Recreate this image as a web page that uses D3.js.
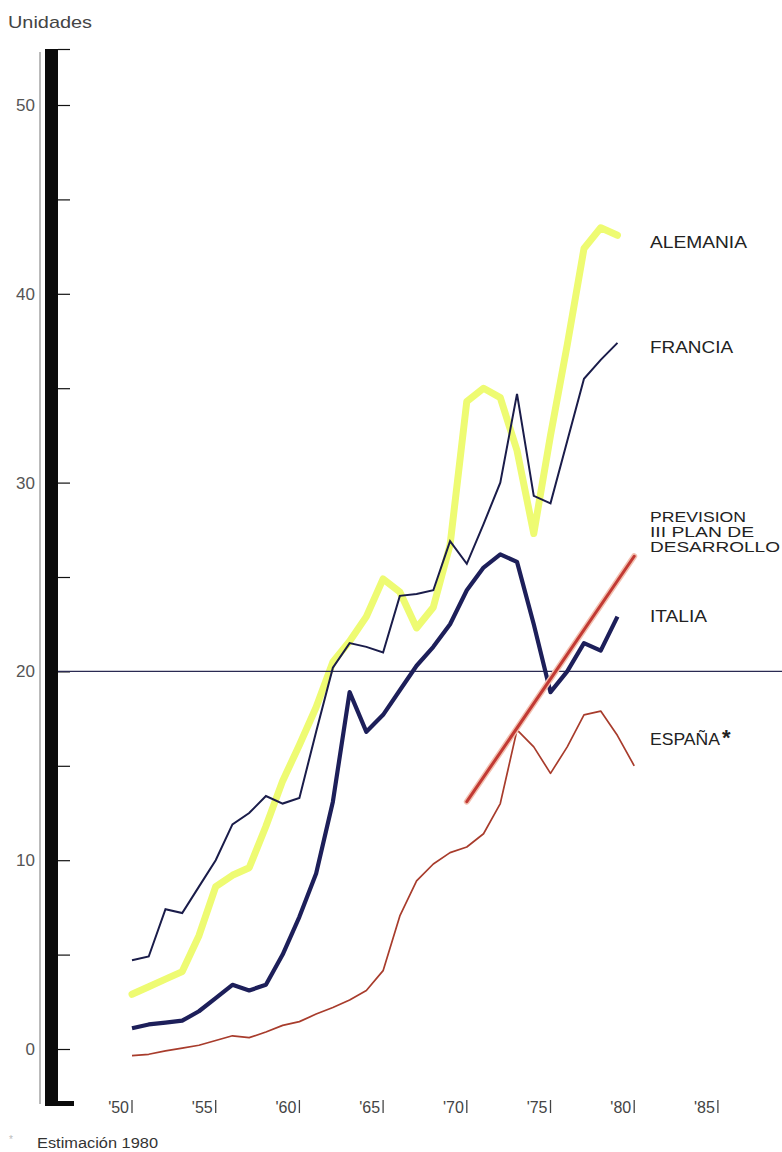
<!DOCTYPE html>
<html><head><meta charset="utf-8">
<script src="https://cdn.jsdelivr.net/npm/d3@7"></script>
<style>html,body{margin:0;padding:0;background:#fff}svg{display:block}</style>
</head><body>
<script>
const years = d3.range(1950, 1980);
const yearsEsp = d3.range(1950, 1981);
const alemania = [2.9,3.3,3.7,4.1,6.0,8.6,9.2,9.6,11.8,14.2,16.1,18.1,20.5,21.6,22.9,24.9,24.2,22.3,23.4,26.7,34.3,35.0,34.5,31.7,27.3,32.5,37.3,42.4,43.5,43.1];
const francia = [4.7,4.9,7.4,7.2,8.6,10.0,11.9,12.5,13.4,13.0,13.3,16.8,20.2,21.5,21.3,21.0,24.0,24.1,24.3,26.9,25.7,27.8,30.0,34.7,29.3,28.9,32.2,35.5,36.5,37.4];
const italia = [1.1,1.3,1.4,1.5,2.0,2.7,3.4,3.1,3.4,5.0,7.0,9.3,13.1,18.9,16.8,17.7,19.0,20.3,21.3,22.5,24.3,25.5,26.2,25.8,22.5,18.9,20.0,21.5,21.1,22.9];
const espana = [-0.35,-0.28,-0.1,0.05,0.2,0.45,0.7,0.6,0.9,1.25,1.45,1.85,2.2,2.6,3.1,4.15,7.05,8.9,9.8,10.4,10.7,11.4,13.0,16.9,16.0,14.6,16.0,17.7,17.9,16.6,15.0];
const planYears = [1970, 1980];
const planValues = [13.1, 26.1];
const xTickYears = [1950,1955,1960,1965,1970,1975,1980,1985];
const xTickLabels = ["'50","'55","'60","'65","'70","'75","'80","'85"];
const yTickValues = [0,10,20,30,40,50];
const yMinorValues = [5,15,25,35,45];
const refValue = 20;

const W = 782, H = 1152;
const svg = d3.select("body").append("svg").attr("width", W).attr("height", H);
const x = d3.scaleLinear().domain([1950, 1985]).range([132, 132 + 35*16.74]);
const y = d3.scaleLinear().domain([0, 50]).range([1049, 105]);
const font = "'Liberation Sans', Arial, sans-serif";

// left axis bar
svg.append("rect").attr("x", 45).attr("y", 49).attr("width", 13).attr("height", 1057).attr("fill", "#0b0b0b");
svg.append("rect").attr("x", 58).attr("y", 1101).attr("width", 16).attr("height", 5).attr("fill", "#0b0b0b");
svg.append("line").attr("x1", 40).attr("x2", 40).attr("y1", 52).attr("y2", 1104).attr("stroke", "#777").attr("stroke-width", 1);

// ticks
const axis = d3.axisRight(y).tickValues(yTickValues.concat(yMinorValues)).tickSize(12).tickFormat("");
const ag = svg.append("g").attr("transform", "translate(58,0)").call(axis);
ag.select(".domain").remove();
ag.selectAll(".tick line").attr("stroke", "#111").attr("stroke-width", 1.2);
svg.append("line").attr("x1", 58).attr("x2", 70).attr("y1", 49.5).attr("y2", 49.5).attr("stroke", "#111").attr("stroke-width", 1.2);

svg.append("g").selectAll("text").data(yTickValues).join("text")
  .attr("x", 35).attr("y", d => y(d) + 6).attr("text-anchor", "end")
  .attr("font-family", font).attr("font-size", 17).attr("fill", "#555").text(d => d);

svg.append("text").attr("x", 8).attr("y", 28).attr("font-family", font).attr("font-size", 17)
  .attr("fill", "#444").attr("textLength", 84).attr("lengthAdjust", "spacingAndGlyphs").text("Unidades");

// x labels
const xg = svg.append("g");
xTickYears.forEach((yr, i) => {
  xg.append("text").attr("x", x(yr) - 3).attr("y", 1113).attr("text-anchor", "end")
    .attr("font-family", font).attr("font-size", 16).attr("fill", "#444").text(xTickLabels[i]);
  xg.append("line").attr("x1", x(yr)).attr("x2", x(yr)).attr("y1", 1100).attr("y2", 1113)
    .attr("stroke", "#444").attr("stroke-width", 1.3);
});

const line = (ys) => d3.line().x((d, i) => x(ys[i])).y(d => y(d));

svg.append("path").datum(alemania).attr("d", line(years)).attr("fill", "none")
  .attr("stroke", "#eefb72").attr("stroke-width", 7).attr("stroke-linejoin", "round").attr("stroke-linecap", "round");

svg.append("line").attr("x1", 58).attr("x2", W).attr("y1", y(refValue)).attr("y2", y(refValue))
  .attr("stroke", "#2a2a52").attr("stroke-width", 1.2);

svg.append("path").datum(francia).attr("d", line(years)).attr("fill", "none")
  .attr("stroke", "#1a1c4a").attr("stroke-width", 2).attr("stroke-linejoin", "miter");
svg.append("path").datum(italia).attr("d", line(years)).attr("fill", "none")
  .attr("stroke", "#1d1f5a").attr("stroke-width", 4.2).attr("stroke-linejoin", "round");
svg.append("path").datum(espana).attr("d", line(yearsEsp)).attr("fill", "none")
  .attr("stroke", "#a83c2c").attr("stroke-width", 1.7).attr("stroke-linejoin", "round");
svg.append("path").datum(planValues).attr("d", line(planYears)).attr("fill", "none")
  .attr("stroke", "#f2c0b0").attr("stroke-width", 6).attr("stroke-linecap", "round");
svg.append("path").datum(planValues).attr("d", line(planYears)).attr("fill", "none")
  .attr("stroke", "#c23a34").attr("stroke-width", 3).attr("stroke-linecap", "round");

// series labels
const lab = (t, yy, len, fs) => svg.append("text").attr("x", 650).attr("y", yy).attr("font-family", font)
  .attr("font-size", fs || 17).attr("fill", "#222").attr("textLength", len).attr("lengthAdjust", "spacingAndGlyphs").text(t);
lab("ALEMANIA", 248, 97);
lab("FRANCIA", 353, 83);
lab("PREVISION", 522, 96, 14);
lab("III PLAN DE", 537, 104, 14);
lab("DESARROLLO", 552, 130, 14);
lab("ITALIA", 622, 57);
lab("ESPAÑA", 745, 70);
svg.append("text").attr("x", 722).attr("y", 745).attr("font-family", font).attr("font-size", 22)
  .attr("font-weight", "bold").attr("fill", "#222").text("*");

// footnote
svg.append("text").attr("x", 9).attr("y", 1143).attr("font-family", font).attr("font-size", 10).attr("fill", "#bbb").text("*");
svg.append("text").attr("x", 37).attr("y", 1148).attr("font-family", font).attr("font-size", 14)
  .attr("fill", "#333").attr("textLength", 121).attr("lengthAdjust", "spacingAndGlyphs").text("Estimación 1980");
</script>
</body></html>
